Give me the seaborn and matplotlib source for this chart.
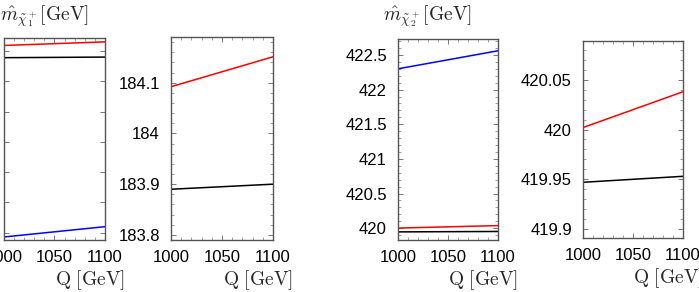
import matplotlib

matplotlib.use("Agg")
import matplotlib.pyplot as plt
import pandas as pd
import seaborn as sns
from matplotlib.ticker import MultipleLocator

# scale Q [GeV]
q = [1000, 1100]

# chargino 1, wide view (red, black, blue)
c1_red = [184.092, 184.151]
c1_black = [183.890, 183.900]
c1_blue = [180.93, 181.10]

# chargino 2 (blue, red, black)
c2_blue = [422.30, 422.56]
c2_red = [420.002, 420.038]
c2_black = [419.947, 419.953]

sns.set_style("ticks")
plt.rcParams["font.family"] = ["Liberation Sans", "DejaVu Sans"]
plt.rcParams["mathtext.fontset"] = "cm"

fig = plt.figure(figsize=(6.99, 2.92), dpi=100)

panels = [
    # rect (px), series, ylim, major, minor
    ([4, 240, 101, 202], [(c1_red, "red"), (c1_black, "black"), (c1_blue, "blue")],
     (180.88, 184.215), 0.5, 0.5),
    ([171, 240, 102, 203], [(c1_red, "red"), (c1_black, "black")],
     (183.79, 184.19), 0.1, 0.02),
    ([398, 240, 100, 201], [(c2_blue, "blue"), (c2_red, "red"), (c2_black, "black")],
     (419.83, 422.73), 0.5, 0.1),
    ([583, 238, 100, 197], [(c2_red, "red"), (c2_black, "black")],
     (419.891, 420.089), 0.05, 0.01),
]

W, H = 699, 292
for i, ((x0, ybot, w, h), series, ylim, major, minor) in enumerate(panels):
    ax = fig.add_axes([x0 / W, (H - ybot) / H, w / W, h / H])
    for vals, col in series:
        df = pd.DataFrame({"Q": q, "m": vals})
        sns.lineplot(data=df, x="Q", y="m", color=col, lw=1.1, ax=ax)
    ax.set_xlim(1000, 1100)
    ax.set_ylim(*ylim)
    ax.set_xticks([1000, 1050, 1100])
    ax.xaxis.set_minor_locator(MultipleLocator(10))
    ax.yaxis.set_major_locator(MultipleLocator(major))
    ax.yaxis.set_minor_locator(MultipleLocator(minor))
    ax.yaxis.set_major_formatter(plt.FuncFormatter(lambda v, p: f"{v:g}"))
    ax.tick_params(which="both", direction="in", top=True, right=True,
                   colors="#777777", labelcolor="black", labelsize=12)
    ax.tick_params(which="major", length=3.5, width=0.7)
    ax.tick_params(which="minor", length=2, width=0.5)
    ax.tick_params(axis="x", pad=7)
    ax.tick_params(axis="y", pad=8)
    if i == 0:
        # the y labels of the first panel fall outside the picture
        ax.tick_params(axis="y", labelleft=False)
    for s in ax.spines.values():
        s.set_color("#555555")
        s.set_linewidth(1.0)
    ax.set_xlabel("")
    ax.set_ylabel("")
    ax.text(1 + 20 / w, -28 / h, r"$\mathrm{Q\ [GeV]}$", transform=ax.transAxes,
            ha="right", va="top", fontsize=14)

fig.text(0 / W, 1 - 20 / H, r"$\hat{m}_{\tilde{\chi}_1^+}[\mathrm{GeV}]$",
         ha="left", va="baseline", fontsize=14)
fig.text(383 / W, 1 - 20 / H, r"$\hat{m}_{\tilde{\chi}_2^+}[\mathrm{GeV}]$",
         ha="left", va="baseline", fontsize=14)

fig.savefig("out.png", dpi=100)
